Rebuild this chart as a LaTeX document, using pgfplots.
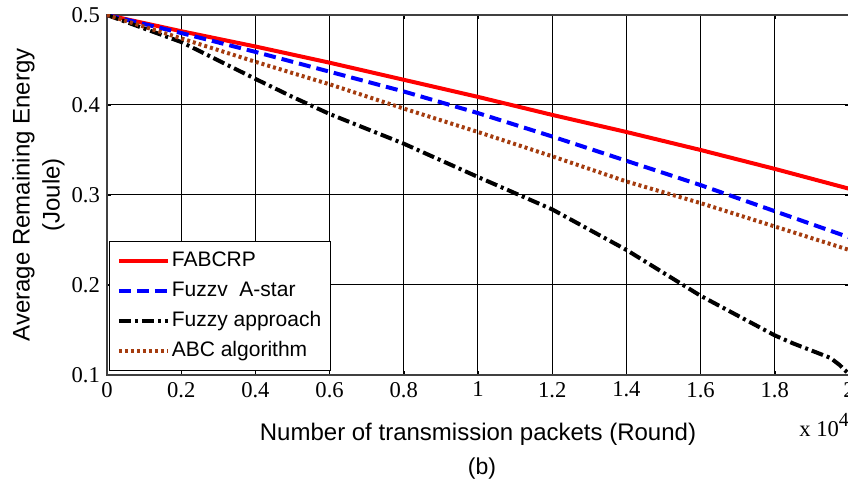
\documentclass[border=0pt]{standalone}
\usepackage{fontspec}
\setmainfont{Liberation Serif}
\setsansfont{Liberation Sans}
\usepackage{pgfplots}
\pgfplotsset{compat=1.18}
\definecolor{abcbrown}{RGB}{165,60,15}

\begin{document}
\begin{tikzpicture}
\begin{axis}[
  at={(0,0)}, anchor=south west,
  scale only axis, width=371pt, height=180pt,
  xmin=0, xmax=2, ymin=0.1, ymax=0.5,
  xtick={0,0.2,0.4,0.6,0.8,1,1.2,1.4,1.6,1.8,2},
  xticklabels={0,0.2,0.4,0.6,0.8,1,1.2,1.4,1.6,1.8,2},
  ytick={0.1,0.2,0.3,0.4,0.5},
  yticklabels={0.1,0.2,0.3,0.4,0.5},
  scaled x ticks=false, scaled y ticks=false,
  grid=major, major grid style={black, line width=0.5pt},
  axis line style={black!75, line width=0.6pt},
  tick align=inside, major tick length=2pt,
  tick style={black},
  ticklabel style={font=\rmfamily\fontsize{11.3}{13}\selectfont},
  xlabel={Number of transmission packets (Round)},
  xlabel style={font=\sffamily\fontsize{12}{14}\selectfont, at={(axis description cs:0.5,-0.1806)}, anchor=base, inner sep=0pt},
  ylabel={Average Remaining Energy\\(Joule)},
  ylabel style={font=\sffamily\fontsize{12}{15}\selectfont, align=center, at={(axis description cs:-0.0566,0.5)}, anchor=south, inner sep=0pt},
  legend style={at={(rel axis cs:0.003,0.011)}, anchor=south west,
    draw=black, line width=0.6pt, fill=white,
    inner xsep=3.5pt, inner ysep=3.5pt, row sep=2.5pt, column sep=0pt,
    font=\sffamily\fontsize{10.5}{12}\selectfont,
    nodes={inner sep=1pt, text height=8pt, text depth=2.5pt}},
  legend cell align=left,
  legend image code/.code={\draw[#1] (0pt,0pt) -- (24.5pt,0pt);},
]
\addplot[red, line width=2pt] coordinates {
(0,0.5) (0.2,0.482) (0.4,0.465) (0.6,0.447) (0.8,0.428) (1.0,0.409)
(1.2,0.389) (1.4,0.370) (1.6,0.350) (1.8,0.329) (2.0,0.307)};
\addlegendentry{FABCRP}
\addplot[blue, line width=2pt, dash pattern=on 6pt off 3pt] coordinates {
(0,0.5) (0.2,0.480) (0.4,0.459) (0.6,0.437) (0.8,0.415) (1.0,0.391)
(1.2,0.365) (1.4,0.338) (1.6,0.311) (1.8,0.282) (2.0,0.253)};
\addlegendentry{Fuzzv\ \ A-star}
\addplot[black, line width=2pt, dash pattern=on 6pt off 2pt on 1.5pt off 2pt] coordinates {
(0,0.5) (0.2,0.470) (0.4,0.429) (0.5,0.409) (0.6,0.390) (0.8,0.357)
(1.0,0.320) (1.2,0.284) (1.4,0.239) (1.6,0.188) (1.7,0.166) (1.8,0.144)
(1.85,0.135) (1.9,0.127) (1.95,0.119) (1.975,0.111) (2.0,0.101)};
\addlegendentry{Fuzzy approach}
\addplot[abcbrown, line width=2pt, dash pattern=on 1.5pt off 1.5pt] coordinates {
(0,0.5) (0.2,0.474) (0.4,0.448) (0.6,0.423) (0.8,0.396) (1.0,0.370)
(1.2,0.343) (1.4,0.315) (1.6,0.291) (1.8,0.265) (2.0,0.239)};
\addlegendentry{ABC algorithm}
\end{axis}
\node[anchor=base west, inner sep=0pt, font=\rmfamily\fontsize{11.3}{13}\selectfont] at (346pt,-31pt) {x 10\raisebox{5pt}{\fontsize{10}{12}\selectfont 4}};
\node[inner sep=0pt, font=\sffamily\fontsize{11.5}{13}\selectfont] at (187.5pt,-47pt) {(b)};
\pgfresetboundingbox
\path[use as bounding box] (-53.5pt,-58.5pt) rectangle (370.5pt,187.5pt);
\end{tikzpicture}
\end{document}
